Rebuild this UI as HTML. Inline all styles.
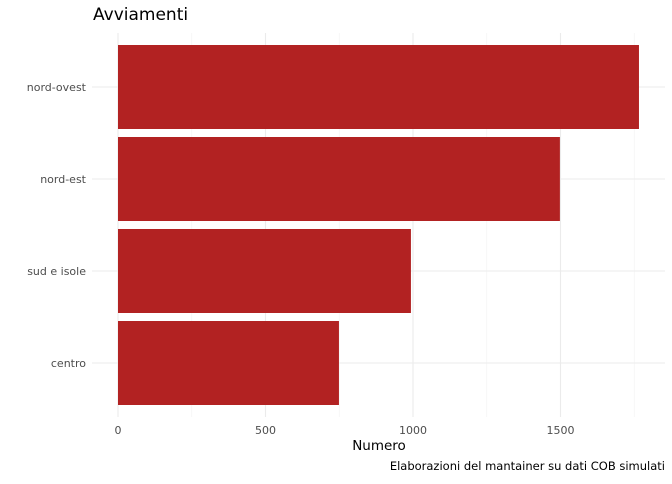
<!DOCTYPE html>
<html><head><meta charset="utf-8"><style>
body{margin:0;background:#fff;font-family:"DejaVu Sans","Liberation Sans",sans-serif}
</style></head><body>
<svg id="chart" width="672" height="480" xmlns="http://www.w3.org/2000/svg" font-family="DejaVu Sans, Liberation Sans, sans-serif">
<rect width="672" height="480" fill="#fff"/>
<text x="93" y="20" font-size="17" fill="#000">Avviamenti</text>
<g id="grid"></g><g id="bars"></g><g id="labels"></g>
<text x="379" y="450" font-size="13.5" text-anchor="middle" fill="#000">Numero</text>
<text x="665" y="470" font-size="11.5" text-anchor="end" fill="#000">Elaborazioni del mantainer su dati COB simulati</text>
</svg>
<script>
const categories=["nord-ovest","nord-est","sud e isole","centro"];
const values=[1766,1498,993,749];
const ticks=[0,500,1000,1500];
const minorTicks=[250,750,1250,1750];
const NS="http://www.w3.org/2000/svg";
const x0=118,kx=0.295,yTop=33,yBot=417,pLeft=92,pRight=665,band=92;
const X=v=>x0+v*kx;
const Y=i=>yTop+i*band+band/2+8;
const g=document.getElementById('grid'),b=document.getElementById('bars'),l=document.getElementById('labels');
function mk(t,a,p){const e=document.createElementNS(NS,t);for(const n in a)e.setAttribute(n,a[n]);p.appendChild(e);return e;}
minorTicks.forEach(v=>{const e=mk('line',{x1:X(v),x2:X(v),y1:yTop,y2:yBot,stroke:'#f2f2f2','stroke-width':0.6},g);

});
ticks.forEach(v=>{const e=mk('line',{x1:X(v),x2:X(v),y1:yTop,y2:yBot,stroke:'#ebebeb','stroke-width':1.1},g);


const t=mk('text',{x:X(v),y:434,'font-size':11,'text-anchor':'middle',fill:'#4d4d4d'},l);t.textContent=v;

});
categories.forEach((c,i)=>{const yc=Y(i);
const e=mk('line',{x1:pLeft,x2:pRight,y1:yc,y2:yc,stroke:'#ebebeb','stroke-width':1.1},g);


const r=mk('rect',{x:X(0),y:yc-42,width:X(values[i])-X(0),height:84,fill:'#b22222'},b);


const t=mk('text',{x:86,y:yc+4,'font-size':11,'text-anchor':'end',fill:'#4d4d4d'},l);t.textContent=c;

});
</script>
</body></html>
